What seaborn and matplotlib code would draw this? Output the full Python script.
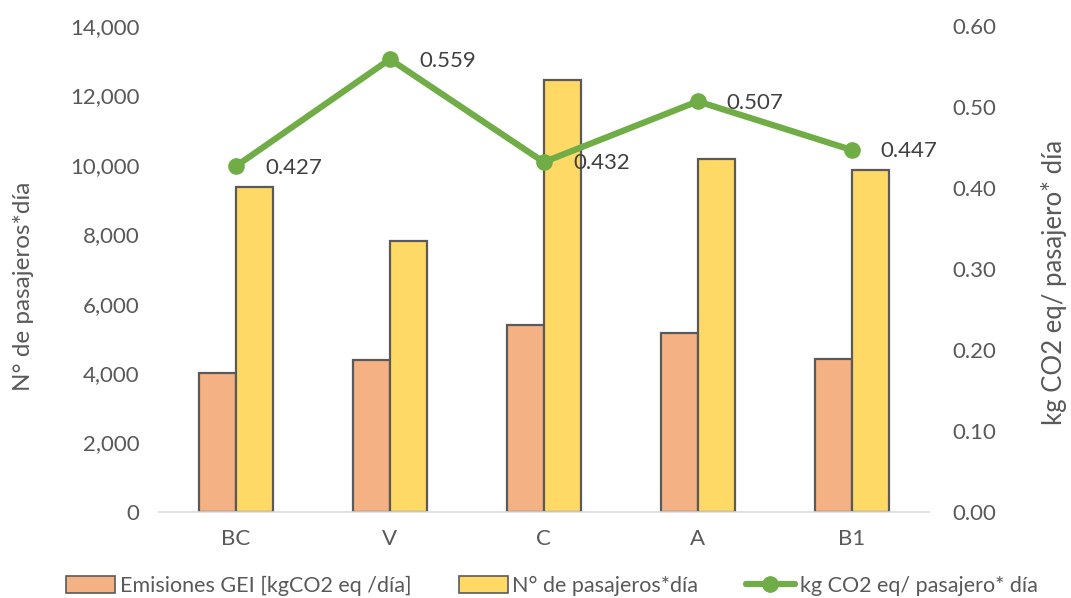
import matplotlib
matplotlib.use("Agg")
import matplotlib.pyplot as plt
import seaborn as sns
import pandas as pd
from matplotlib.patches import Patch
from matplotlib.lines import Line2D

# Route data
categories = ["BC", "V", "C", "A", "B1"]
emisiones = [4010, 4370, 5390, 5160, 4410]          # kgCO2 eq / día
pasajeros = [9370, 7810, 12450, 10170, 9860]        # pasajeros por día
intensidad = [0.427, 0.559, 0.432, 0.507, 0.447]    # kg CO2 eq / pasajero*día

lbl_em = "Emisiones GEI [kgCO2 eq /día]"
lbl_pas = "N° de pasajeros*día"
lbl_int = "kg CO2 eq/ pasajero* día"

c_em = "#F4B183"
c_pas = "#FFD966"
c_line = "#70AD47"
c_edge = "#5A5A5A"
c_text = "#595959"

sns.set_theme(style="white")
plt.rcParams["font.family"] = ["Lato", "DejaVu Sans"]

bars = pd.DataFrame({
    "ruta": categories * 2,
    "valor": emisiones + pasajeros,
    "serie": [lbl_em] * len(categories) + [lbl_pas] * len(categories),
})
line = pd.DataFrame({"ruta": categories, "valor": intensidad})

fig = plt.figure(figsize=(10.71, 5.98), dpi=100)
ax = fig.add_axes([0.1485, 0.1438, 0.7185, 0.8127])

sns.barplot(data=bars, x="ruta", y="valor", hue="serie", order=categories,
            hue_order=[lbl_em, lbl_pas], palette=[c_em, c_pas],
            width=0.48, gap=0, dodge=True, edgecolor=c_edge, linewidth=1.6,
            saturation=1, legend=False, ax=ax)

ax.set_ylim(0, 14000)
ax.set_yticks(range(0, 14001, 2000))
ax.set_yticklabels([f"{v:,}" for v in range(0, 14001, 2000)])
ax.set_xlim(-0.5, len(categories) - 0.5)
ax.set_xlabel("")
ax.set_ylabel(lbl_pas, fontsize=17.5, color=c_text)
ax.yaxis.set_label_coords(-0.163, 0.465)
for s in ["top", "right", "left"]:
    ax.spines[s].set_visible(False)
ax.spines["bottom"].set_color("#D9D9D9")
ax.spines["bottom"].set_linewidth(1.2)
ax.tick_params(axis="y", labelsize=16, colors=c_text, length=0, pad=14)
ax.tick_params(axis="x", labelsize=16, colors=c_text, length=0, pad=12)

ax2 = ax.twinx()
sns.lineplot(data=line, x="ruta", y="valor", color=c_line, linewidth=4.5,
             marker="o", markersize=12, markeredgewidth=0, sort=False, ax=ax2)
ax2.set_ylim(0, 0.60)
ax2.set_yticks([i / 10 for i in range(7)])
ax2.set_yticklabels([f"{i / 10:.2f}" for i in range(7)])
ax2.set_xlim(-0.5, len(categories) - 0.5)
ax2.set_ylabel(lbl_int, fontsize=18.5, color=c_text, rotation=90)
ax2.yaxis.set_label_coords(1.146, 0.473)
for s in ["top", "right", "left", "bottom"]:
    ax2.spines[s].set_visible(False)
ax2.tick_params(axis="y", labelsize=16, colors=c_text, length=0, pad=17)

for i, v in enumerate(intensidad):
    ax2.annotate(f"{v:.3f}", (i, v), xytext=(21, -1), textcoords="offset points",
                 ha="left", va="center", fontsize=16, color="#404040")

handles = [
    Patch(facecolor=c_em, edgecolor=c_edge, linewidth=1.2, label=lbl_em),
    Patch(facecolor=c_pas, edgecolor=c_edge, linewidth=1.2, label=lbl_pas),
    Line2D([0], [0], color=c_line, linewidth=4.5, marker="o", markersize=11, label=lbl_int),
]
fig.legend(handles=handles, loc="center", bbox_to_anchor=(0.515, 0.02), ncol=3,
           frameon=False, fontsize=15.5, labelcolor=c_text, handlelength=2.3,
           handleheight=0.8, handletextpad=0.2, columnspacing=2.2)

fig.savefig("out.png", dpi=100)
